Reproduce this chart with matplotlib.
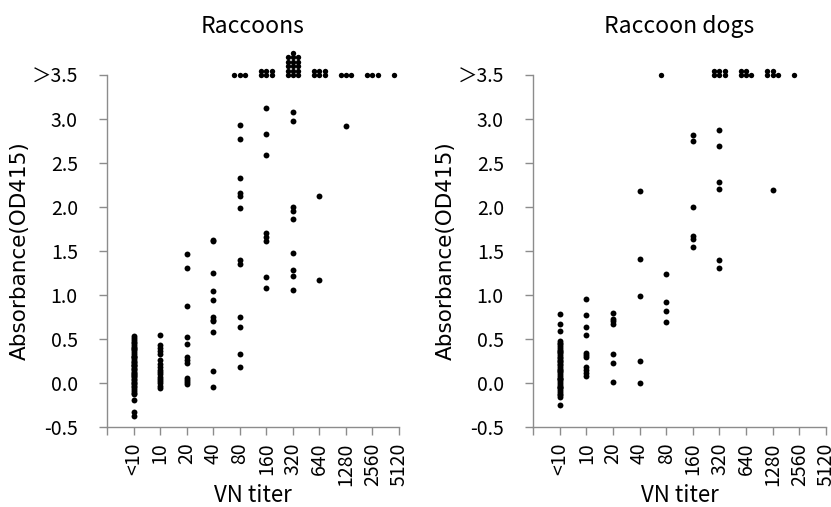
import matplotlib.pyplot as plt
import numpy as np

plt.rcParams['font.family'] = ['Noto Sans CJK JP', 'DejaVu Sans']

titers = ['<10', '10', '20', '40', '80', '160', '320', '640', '1280', '2560', '5120']
ytick_vals = [-0.5, 0.0, 0.5, 1.0, 1.5, 2.0, 2.5, 3.0, 3.5]
ytick_labels = ['-0.5', '0.0', '0.5', '1.0', '1.5', '2.0', '2.5', '3.0', '＞3.5']

# Raccoons: measured OD per titer (values under the 3.5 cap)
raccoon_od = {
    '<10': [0.53, 0.51, 0.49, 0.47, 0.45, 0.43, 0.41, 0.39, 0.37, 0.35, 0.33, 0.31,
            0.29, 0.27, 0.25, 0.23, 0.21, 0.19, 0.17, 0.15, 0.13, 0.11, 0.09, 0.07,
            0.05, 0.03, 0.01, -0.01, -0.03, -0.05, -0.07, -0.09, -0.11, -0.13, -0.19,
            -0.33, -0.37, 0.40, 0.20, 0.10, 0.00, 0.30, 0.24, 0.16, 0.08],
    '10': [0.54, 0.43, 0.40, 0.36, 0.33, 0.26, 0.22, 0.18, 0.15, 0.12, 0.10, 0.07,
           0.05, 0.02, 0.00, -0.03, -0.06],
    '20': [1.47, 1.31, 0.87, 0.52, 0.44, 0.29, 0.26, 0.23, 0.06, 0.03, 0.01, -0.01],
    '40': [1.63, 1.61, 1.25, 1.05, 0.94, 0.75, 0.72, 0.70, 0.58, 0.14, -0.05],
    '80': [2.93, 2.77, 2.33, 2.16, 2.12, 1.99, 1.40, 1.35, 0.75, 0.64, 0.33, 0.18],
    '160': [3.13, 2.83, 2.59, 1.70, 1.66, 1.61, 1.20, 1.08],
    '320': [3.08, 2.98, 2.00, 1.95, 1.86, 1.48, 1.28, 1.22, 1.06],
    '640': [2.12, 1.17],
    '1280': [2.92],
}
# Raccoons: number of sera above 3.5 per titer
raccoon_over = {'80': 3, '160': 6, '320': 16, '640': 6, '1280': 3, '2560': 3, '5120': 1}

# Raccoon dogs
dog_od = {
    '<10': [0.78, 0.67, 0.59, 0.48, 0.46, 0.44, 0.42, 0.40, 0.38, 0.36, 0.34, 0.32,
            0.30, 0.28, 0.26, 0.24, 0.22, 0.20, 0.18, 0.16, 0.14, 0.12, 0.10, 0.08,
            0.06, 0.04, 0.02, 0.00, -0.02, -0.04, -0.06, -0.08, -0.10, -0.12, -0.14,
            -0.16, -0.25, 0.35, 0.25, 0.15, 0.05, -0.05],
    '10': [0.96, 0.77, 0.64, 0.54, 0.34, 0.32, 0.30, 0.18, 0.15, 0.11, 0.08],
    '20': [0.80, 0.73, 0.70, 0.67, 0.33, 0.23, 0.01],
    '40': [2.18, 1.41, 0.99, 0.25, 0.00],
    '80': [1.24, 0.92, 0.82, 0.69],
    '160': [2.82, 2.75, 2.00, 1.67, 1.64, 1.54],
    '320': [2.88, 2.69, 2.28, 2.20, 1.40, 1.31],
    '1280': [2.19],
}
dog_over = {'80': 1, '320': 6, '640': 5, '1280': 5, '2560': 1}


def cluster(n, ncol=3, dx=0.2, dy=0.05):
    # stack the >3.5 sera as a small block of dots above the cap
    xs, ys = [], []
    for i in range(n):
        row, col = divmod(i, ncol)
        left = n - row * ncol
        if left == 1 and row > 0:
            xs.append(0.0)
        else:
            xs.append((col - (ncol - 1) / 2) * dx)
        ys.append(row * dy)
    return np.array(xs), np.array(ys)


fig = plt.figure(figsize=(8.31, 5.07), dpi=100)
ax1 = fig.add_axes([0.1288, 0.1578, 0.3514, 0.6943])
ax2 = fig.add_axes([0.6414, 0.1578, 0.3526, 0.6943])

for ax, od, over, title in [(ax1, raccoon_od, raccoon_over, 'Raccoons'),
                            (ax2, dog_od, dog_over, 'Raccoon dogs')]:
    for i, t in enumerate(titers):
        xpos = i + 1
        vals = od.get(t, [])
        if vals:
            ax.scatter([xpos] * len(vals), vals, s=18, c='black', lw=0, clip_on=False, zorder=3)
        n = over.get(t, 0)
        if n:
            ox, oy = cluster(n)
            ax.scatter(xpos + ox, 3.5 + oy, s=15, c='black', lw=0, clip_on=False, zorder=3)

    ax.set_xlim(0, 11)
    ax.set_ylim(-0.5, 3.5)
    ax.set_xticks(range(12))
    ax.set_xticklabels([''] + titers, rotation=90, fontsize=14)
    ax.set_yticks(ytick_vals)
    ax.set_yticklabels(ytick_labels, fontsize=14)
    ax.spines['top'].set_visible(False)
    ax.spines['right'].set_visible(False)
    for s in ['left', 'bottom']:
        ax.spines[s].set_color('#8c8c8c')
        ax.spines[s].set_linewidth(1.0)
    ax.tick_params(color='#8c8c8c', length=6, width=1.0)
    ax.tick_params(axis='y', pad=15)
    ax.tick_params(axis='x', pad=5)
    ax.set_xlabel('VN titer', fontsize=16, labelpad=-1)
    ax.set_ylabel('Absorbance(OD415)', fontsize=15.5, family='DejaVu Sans', labelpad=1)
    ax.set_title(title, fontsize=16.5, pad=30)

fig.savefig('out.png', dpi=100)
